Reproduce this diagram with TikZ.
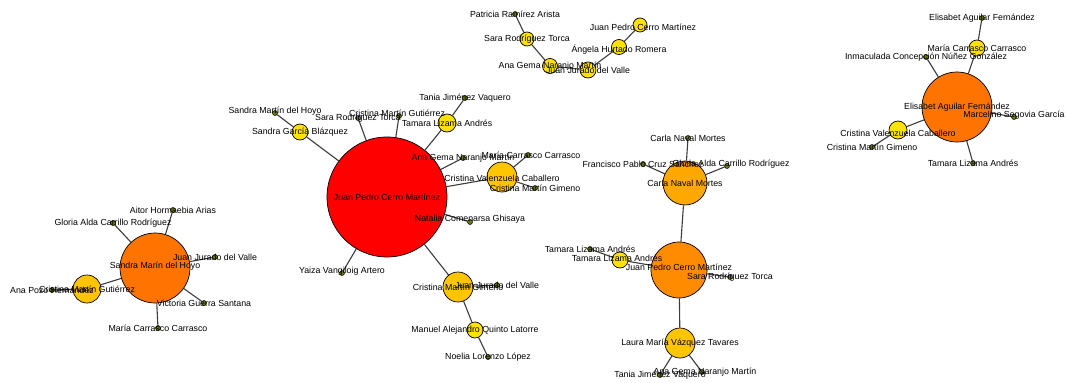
\documentclass[tikz,border=0pt]{standalone}
\usepackage{fontspec}
\setmainfont{Liberation Sans}
\usetikzlibrary{backgrounds}
\definecolor{cRed}{RGB}{255,0,0}
\definecolor{cOrD}{RGB}{255,116,0}
\definecolor{cOrM}{RGB}{255,140,0}
\definecolor{cOrL}{RGB}{255,168,0}
\definecolor{cGold}{RGB}{255,198,0}
\definecolor{cYel}{RGB}{255,226,0}
\definecolor{cDot}{RGB}{110,122,0}
\definecolor{cEdge}{RGB}{60,60,60}
\begin{document}
\begin{tikzpicture}[x=1pt,y=-1pt,
  vtx/.style 2 args={circle, draw=black, line width=0.7pt, fill=#1, inner sep=0pt, minimum size=#2},
  dot/.style={circle, draw=black, line width=0.5pt, fill=cDot, inner sep=0pt, minimum size=5pt},
  edge/.style={draw=cEdge, line width=1.1pt},
  lbl/.style={inner sep=0pt, font=\fontsize{8.8}{9}\selectfont, text=black}]
\useasboundingbox (0,0) rectangle (1066,383);

% ---- chain at the top
\node[dot] (a1) at (515,14) {};
\node[vtx={cYel}{14pt}] (a2) at (527,39) {};
\node[vtx={cYel}{15pt}] (a3) at (550,66) {};
\node[vtx={cYel}{16pt}] (a4) at (588,70) {};
\node[vtx={cYel}{15pt}] (a5) at (619,47) {};
\node[vtx={cYel}{14pt}] (a6) at (640,25) {};

% ---- top right cluster
\node[dot] (b1) at (982,18) {};
\node[vtx={cYel}{16pt}] (b2) at (977,48) {};
\node[dot] (b3) at (926,57) {};
\node[vtx={cOrD}{70pt}] (b4) at (957,107) {};
\node[dot] (b5) at (1014,117) {};
\node[vtx={cYel}{18pt}] (b6) at (898,130) {};
\node[dot] (b7) at (872,147) {};
\node[dot] (b8) at (973,163) {};

% ---- central cluster
\node[vtx={cRed}{120pt}] (c0) at (387,197) {};
\node[dot] (c1) at (275,113) {};
\node[vtx={cYel}{16pt}] (c2) at (300,132) {};
\node[dot] (c3) at (358,118) {};
\node[dot] (c4) at (399,116) {};
\node[vtx={cYel}{18pt}] (c5) at (447,123) {};
\node[dot] (c6) at (465,98) {};
\node[dot] (c7) at (463,158) {};
\node[vtx={cGold}{30pt}] (c8) at (502,177) {};
\node[dot] (c9) at (528,155) {};
\node[dot] (c10) at (535,188) {};
\node[dot] (c11) at (470,222) {};
\node[dot] (c12) at (342,273) {};
\node[vtx={cGold}{30pt}] (c13) at (458,287) {};
\node[dot] (c14) at (497,285) {};
\node[vtx={cYel}{16pt}] (c15) at (475,330) {};
\node[dot] (c16) at (488,357) {};

% ---- left cluster
\node[vtx={cOrD}{70pt}] (d0) at (155,268) {};
\node[dot] (d1) at (173,210) {};
\node[dot] (d2) at (113,223) {};
\node[dot] (d3) at (215,257) {};
\node[dot] (d4) at (204,303) {};
\node[dot] (d5) at (158,328) {};
\node[vtx={cGold}{28pt}] (d6) at (87,289) {};
\node[dot] (d7) at (52,290) {};

% ---- right middle cluster
\node[dot] (e1) at (688,138) {};
\node[vtx={cOrL}{44pt}] (e2) at (685,183) {};
\node[dot] (e3) at (643,164) {};
\node[dot] (e4) at (727,166) {};
\node[vtx={cOrM}{56pt}] (e5) at (679,270) {};
\node[vtx={cYel}{16pt}] (e6) at (620,260) {};
\node[dot] (e7) at (590,249) {};
\node[dot] (e8) at (730,277) {};
\node[vtx={cGold}{30pt}] (e9) at (680,343) {};
\node[dot] (e10) at (660,375) {};
\node[dot] (e11) at (702,372) {};

% ---- connectors, behind the vertices
\begin{pgfonlayer}{background}
\draw[edge] (a1) -- (a2) (a2) -- (a3) (a3) -- (a4) (a4) -- (a5) (a5) -- (a6);
\draw[edge] (b1) -- (b2) (b2) -- (b4) (b3) -- (b4) (b4) -- (b5)
            (b4) -- (b6) (b6) -- (b7) (b4) -- (b8);
\draw[edge] (c0) -- (c2) (c2) -- (c1) (c0) -- (c3) (c0) -- (c4)
            (c0) -- (c5) (c5) -- (c6) (c0) -- (c7) (c0) -- (c8)
            (c8) -- (c9) (c8) -- (c10) (c0) -- (c11) (c0) -- (c12)
            (c0) -- (c13) (c13) -- (c14) (c13) -- (c15) (c15) -- (c16);
\draw[edge] (d0) -- (d1) (d0) -- (d2) (d0) -- (d3) (d0) -- (d4)
            (d0) -- (d5) (d0) -- (d6) (d6) -- (d7);
\draw[edge] (e1) -- (e2) (e3) -- (e2) (e2) -- (e4) (e2) -- (e5)
            (e5) -- (e6) (e6) -- (e7) (e5) -- (e8) (e5) -- (e9)
            (e9) -- (e10) (e9) -- (e11);
\end{pgfonlayer}

% ---- vertex labels, drawn last
\node[lbl] (a1l) at (a1) {Patricia Ramírez Arista};
\node[lbl] (a2l) at (a2) {Sara Rodríguez Torca};
\node[lbl] (a3l) at (a3) {Ana Gema Naranjo Martín};
\node[lbl] (a4l) at (a4) {Juan Jurado del Valle};
\node[lbl,yshift=-3pt] (a5l) at (a5) {Ángela Hurtado Romera};
\node[lbl,xshift=3pt,yshift=-2pt] (a6l) at (a6) {Juan Pedro Cerro Martínez};

\node[lbl] (b1l) at (b1) {Elisabet Aguilar Fernández};
\node[lbl] (b2l) at (b2) {María Carrasco Carrasco};
\node[lbl] (b3l) at (b3) {Inmaculada Concepción Núñez González};
\node[lbl] (b4l) at (b4) {Elisabet Aguilar Fernández};
\node[lbl,yshift=2pt] (b5l) at (b5) {Marcelino Segovia García};
\node[lbl,yshift=-3pt] (b6l) at (b6) {Cristina Valenzuela Caballero};
\node[lbl] (b7l) at (b7) {Cristina Martín Gimeno};
\node[lbl] (b8l) at (b8) {Tamara Lizama Andrés};

\node[lbl] (c0l) at (c0) {Juan Pedro Cerro Martínez};
\node[lbl,yshift=2pt] (c1l) at (c1) {Sandra Martín del Hoyo};
\node[lbl] (c2l) at (c2) {Sandra García Blázquez};
\node[lbl] (c3l) at (c3) {Sara Rodríguez Torca};
\node[lbl,xshift=-2pt,yshift=3pt] (c4l) at (c4) {Cristina Martín Gutiérrez};
\node[lbl] (c5l) at (c5) {Tamara Lizama Andrés};
\node[lbl] (c6l) at (c6) {Tania Jiménez Vaquero};
\node[lbl] (c7l) at (c7) {Ana Gema Naranjo Martín};
\node[lbl,yshift=-1pt] (c8l) at (c8) {Cristina Valenzuela Caballero};
\node[lbl,xshift=3pt] (c9l) at (c9) {María Carrasco Carrasco};
\node[lbl] (c10l) at (c10) {Cristina Martín Gimeno};
\node[lbl,yshift=3pt] (c11l) at (c11) {Natalia Comenarsa Ghisaya};
\node[lbl,yshift=2pt] (c12l) at (c12) {Yaiza Vangiloig Artero};
\node[lbl] (c13l) at (c13) {Cristina Martín Gimeno};
\node[lbl] (c14l) at (c14) {Juan Jurado del Valle};
\node[lbl] (c15l) at (c15) {Manuel Alejandro Quinto Latorre};
\node[lbl] (c16l) at (c16) {Noelia Lorenzo López};

\node[lbl,yshift=2pt] (d0l) at (d0) {Sandra Marín del Hoyo};
\node[lbl] (d1l) at (d1) {Aitor Hormaebia Arias};
\node[lbl] (d2l) at (d2) {Gloria Alda Carrillo Rodríguez};
\node[lbl] (d3l) at (d3) {Juan Jurado del Valle};
\node[lbl] (d4l) at (d4) {Victoria Guerra Santana};
\node[lbl] (d5l) at (d5) {María Carrasco Carrasco};
\node[lbl] (d6l) at (d6) {Cristina Martín Gutiérrez};
\node[lbl] (d7l) at (d7) {Ana Pozo Hernández};

\node[lbl] (e1l) at (e1) {Carla Naval Mortes};
\node[lbl] (e2l) at (e2) {Carla Naval Mortes};
\node[lbl] (e3l) at (e3) {Francisco Pablo Cruz Sánchez};
\node[lbl,xshift=4pt,yshift=2pt] (e4l) at (e4) {Gloria Alda Carrillo Rodríguez};
\node[lbl,yshift=3pt] (e5l) at (e5) {Juan Pedro Cerro Martínez};
\node[lbl,xshift=-3pt,yshift=2pt] (e6l) at (e6) {Tamara Lizama Andrés};
\node[lbl] (e7l) at (e7) {Tamara Lizama Andrés};
\node[lbl] (e8l) at (e8) {Sara Rodríguez Torca};
\node[lbl] (e9l) at (e9) {Laura María Vázquez Tavares};
\node[lbl] (e10l) at (e10) {Tania Jiménez Vaquero};
\node[lbl,xshift=3pt] (e11l) at (e11) {Ana Gema Naranjo Martín};
\end{tikzpicture}
\end{document}
